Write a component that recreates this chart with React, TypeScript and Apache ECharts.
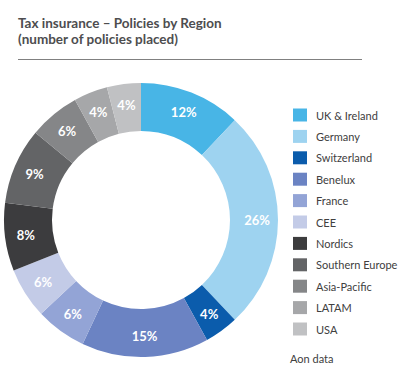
import React, { useEffect, useRef } from "react";
import * as echarts from "echarts";

const regions = [
  "UK & Ireland",
  "Germany",
  "Switzerland",
  "Benelux",
  "France",
  "CEE",
  "Nordics",
  "Southern Europe",
  "Asia-Pacific",
  "LATAM",
  "USA",
];
const shares = [12, 26, 4, 15, 6, 6, 8, 9, 6, 4, 4];
const colors = [
  "#48b5e6",
  "#9ed3f0",
  "#0b5cac",
  "#6b83c3",
  "#93a4d6",
  "#c3cbe7",
  "#3c3c3e",
  "#636466",
  "#858688",
  "#a6a7a9",
  "#c0c1c3",
];
const titleText = "Tax insurance – Policies by Region\n(number of policies placed)";
const sourceText = "Aon data";

const FONT = "Lato, 'Open Sans', sans-serif";

export default function App() {
  const ref = useRef<HTMLDivElement>(null);
  useEffect(() => {
    if (!ref.current) return;
    const chart = echarts.init(ref.current, undefined, { renderer: "svg" });
    chart.setOption({
      animation: false,
      backgroundColor: "#ffffff",
      color: colors,
      title: {
        text: titleText,
        left: 13,
        top: 10,
        textStyle: {
          fontSize: 13.5,
          fontWeight: "bold",
          color: "#4d4d4f",
          lineHeight: 16,
          fontFamily: FONT,
        },
      },
      legend: {
        orient: "vertical",
        left: 293,
        top: 108.5,
        padding: 0,
        itemWidth: 14,
        itemHeight: 13,
        itemGap: 8.4,
        icon: "rect",
        textStyle: { fontSize: 11, color: "#404040", fontFamily: FONT, padding: [0, 0, 0, 4] },
        data: regions,
      },
      graphic: [
        {
          type: "line",
          shape: { x1: 18, y1: 59.5, x2: 362, y2: 59.5 },
          style: { stroke: "#808080", lineWidth: 1 },
        },
        {
          type: "text",
          left: 290,
          top: 353,
          style: { text: sourceText, fontSize: 11, fill: "#404040", fontFamily: FONT },
        },
      ],
      series: [
        {
          type: "pie",
          center: [141, 220],
          radius: [89, 137],
          startAngle: 90,
          clockwise: true,
          avoidLabelOverlap: false,
          label: {
            show: true,
            position: "inside",
            formatter: "{c}%",
            color: "#ffffff",
            fontSize: 13,
            fontWeight: "bold",
            fontFamily: FONT,
          },
          labelLine: { show: false },
          itemStyle: { borderWidth: 0 },
          emphasis: { disabled: true },
          data: regions.map((name, i) => ({ name, value: shares[i] })),
        },
      ],
    });
    return () => chart.dispose();
  }, []);
  return (
    <div
      ref={ref}
      style={{ position: "absolute", left: 0, top: 0, width: 419, height: 387 }}
    />
  );
}
